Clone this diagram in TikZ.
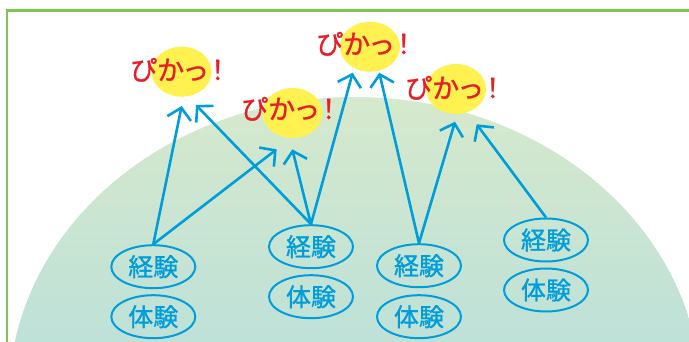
\documentclass[tikz,border=0pt]{standalone}
\usepackage{fontspec}
\setmainfont{Noto Sans CJK JP}
\newfontfamily\jpfont[FakeBold=1.2]{Noto Sans CJK JP}
\newfontfamily\pikafont[FakeBold=1]{Noto Sans CJK JP}
\newcommand\pikatext{ぴか\kern-2ptっ\kern-5pt！}
\usetikzlibrary{shapes.geometric,arrows.meta}
\definecolor{frameg}{RGB}{122,198,80}
\definecolor{hilltop}{RGB}{214,233,204}
\definecolor{hillbot}{RGB}{190,225,216}
\definecolor{arrowblue}{RGB}{0,157,219}
\definecolor{pikared}{RGB}{230,30,40}
\definecolor{pikayel}{RGB}{255,242,80}
\tikzset{
  keiken/.style={ellipse, draw=arrowblue, line width=2pt, minimum width=84pt, minimum height=43pt, inner sep=0pt, text=arrowblue, font=\jpfont\fontsize{25}{25}\selectfont},
  spot/.style={ellipse, fill=pikayel, minimum width=60pt, minimum height=50pt, inner sep=0pt},
  pika/.style={anchor=base west, inner sep=0pt, text=pikared, font=\pikafont\fontsize{27}{27}\selectfont},
  link/.style={draw=arrowblue, line width=2.6pt, -{Straight Barb[length=11pt,width=24pt]}}
}
\begin{document}
\begin{tikzpicture}[x=1pt,y=-1pt]
\useasboundingbox (0,0) rectangle (689,342);
% hill
\begin{scope}
  \clip (355,397) ellipse [x radius=346pt, y radius=300pt];
  \shade[top color=hilltop, bottom color=hillbot] (0,96) rectangle (689,342);
\end{scope}
% frame
\draw[frameg, line width=2.2pt] (6.7,343) -- (6.7,10.5) -- (690,10.5);
% spots
\node[spot] (c1) at (181.7,71.7) {};
\node[spot] (c2) at (292.5,113) {};
\node[spot] (c3) at (370,46.7) {};
\node[spot] (c4) at (456,89) {};
% texts
\node[pika] (p1) at (130,80) {\pikatext};
\node[pika] (p2) at (241,119) {\pikatext};
\node[pika] (p3) at (316,54) {\pikatext};
\node[pika] (p4) at (405,98) {\pikatext};
% experience ellipses
\node[keiken] (k1) at (153.3,266.7) {経験};
\node[keiken] (t1) at (153.3,316.7) {体験};
\node[keiken] (k2) at (311,246.7) {経験};
\node[keiken] (t2) at (311,296.7) {体験};
\node[keiken] (k3) at (419,265.7) {経験};
\node[keiken] (t3) at (419,316.7) {体験};
\node[keiken] (k4) at (546,240) {経験};
\node[keiken] (t4) at (546,290) {体験};
% arrow tips
\coordinate (a11) at (181.7,106);
\coordinate (a12) at (196,105);
\coordinate (a21) at (276.7,149.3);
\coordinate (a22) at (292.3,149.3);
\coordinate (a31) at (352.7,72.7);
\coordinate (a32) at (379.3,72.7);
\coordinate (a41) at (455,121.7);
\coordinate (a42) at (476.7,124.3);
% arrows
\draw[link] (k1.north) -- (a11);
\draw[link] (k1.north) -- (a21);
\draw[link] (k2.north) -- (a12);
\draw[link] (k2.north) -- (a22);
\draw[link] (k2.north) -- (a31);
\draw[link] (k3.north) -- (a32);
\draw[link] (k3.north) -- (a41);
\draw[link] (k4.north) -- (a42);
\end{tikzpicture}
\end{document}
